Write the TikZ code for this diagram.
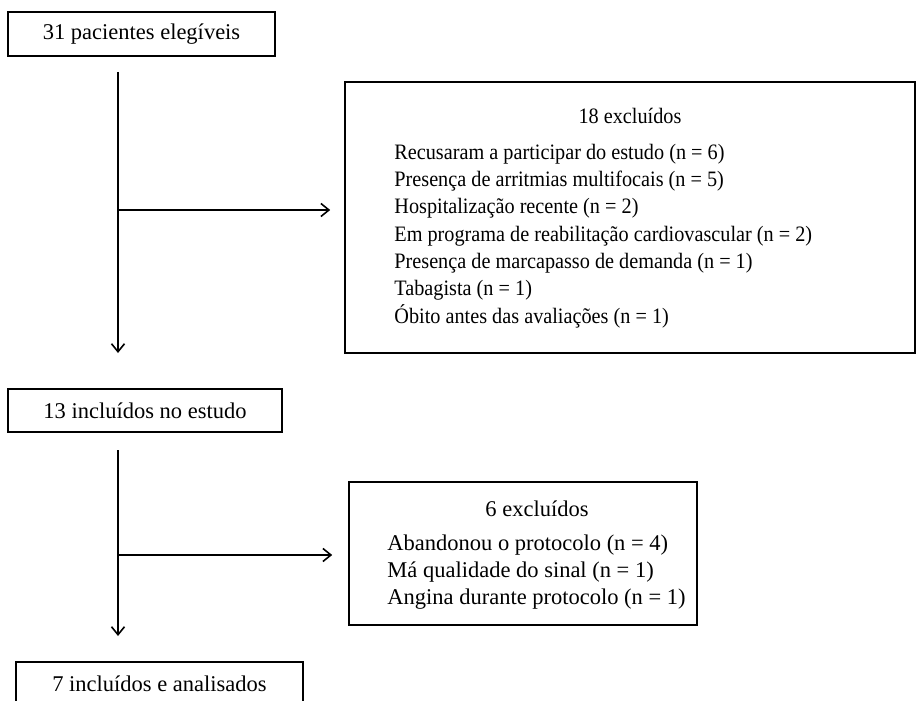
\documentclass[tikz,border=0pt]{standalone}
\usepackage{fontspec}
\setmainfont{Liberation Serif}
\newfontfamily\narrowserif[FakeStretch=0.92]{Liberation Serif}
\usetikzlibrary{positioning}
\usetikzlibrary{arrows.meta}

\tikzset{
	flowbox/.style={draw, line width=0.8pt, inner sep=0pt, minimum height=22pt},
	flowline/.style={line width=0.8pt, -{Straight Barb[length=4pt,width=6.5pt]}},
	flowtext/.style={inner sep=0pt, font=\fontsize{11.25}{13.3}\selectfont},
	narrowtext/.style={inner sep=0pt, font=\narrowserif\fontsize{11}{13.65}\selectfont},
}

\begin{document}
\begin{tikzpicture}[x=0.5pt, y=-0.5pt]
	\useasboundingbox (0,0) rectangle (916,701);
	%Main boxes
	\node [flowbox, flowtext, minimum width=133.5pt] (elig) at (141.5,34) {31 pacientes elegíveis};
	\node [flowbox, flowtext, minimum width=137pt, minimum height=21.5pt] (incl) at (145,410.5) {13 incluídos no estudo};
	\node [flowbox, flowtext, minimum width=143.5pt] (anal) at (159.5,684) {7 incluídos e analisados};
	%Excluded boxes
	\node [flowbox, minimum width=285pt, minimum height=135.5pt] (exclA) at (630,217.5) {};
	\node [narrowtext, anchor=base] (exclAtitle) at (630,124) {18 excluídos};
	\node [narrowtext, align=left, anchor=base west] (exclAlist) at (394,323) {Recusaram a participar do estudo (n = 6)\\
		Presença de arritmias multifocais (n = 5)\\
		Hospitalização recente (n = 2)\\
		Em programa de reabilitação cardiovascular (n = 2)\\
		Presença de marcapasso de demanda (n = 1)\\
		Tabagista (n = 1)\\
		Óbito antes das avaliações (n = 1)};
	\node [flowbox, minimum width=174pt, minimum height=71.5pt] (exclB) at (523,553.5) {};
	\node [flowtext, anchor=base] (exclBtitle) at (537,516) {6 excluídos};
	\node [flowtext, align=left, anchor=base west] (exclBlist) at (387,604) {Abandonou o protocolo (n = 4)\\
		Má qualidade do sinal (n = 1)\\
		Angina durante protocolo (n = 1)};
	%Arrows
	\coordinate (downAtop) at (118,72);
	\coordinate (downAbot) at (118,353);
	\coordinate (sideA) at (118,210);
	\coordinate (downBtop) at (118,450);
	\coordinate (downBbot) at (118,636);
	\coordinate (sideB) at (118,555);
	\draw [flowline] (downAtop) to (downAbot);
	\draw [flowline, shorten >=7pt] (sideA) to (sideA -| exclA.west);
	\draw [flowline] (downBtop) to (downBbot);
	\draw [flowline, shorten >=8pt] (sideB) to (sideB -| exclB.west);
\end{tikzpicture}
\end{document}
